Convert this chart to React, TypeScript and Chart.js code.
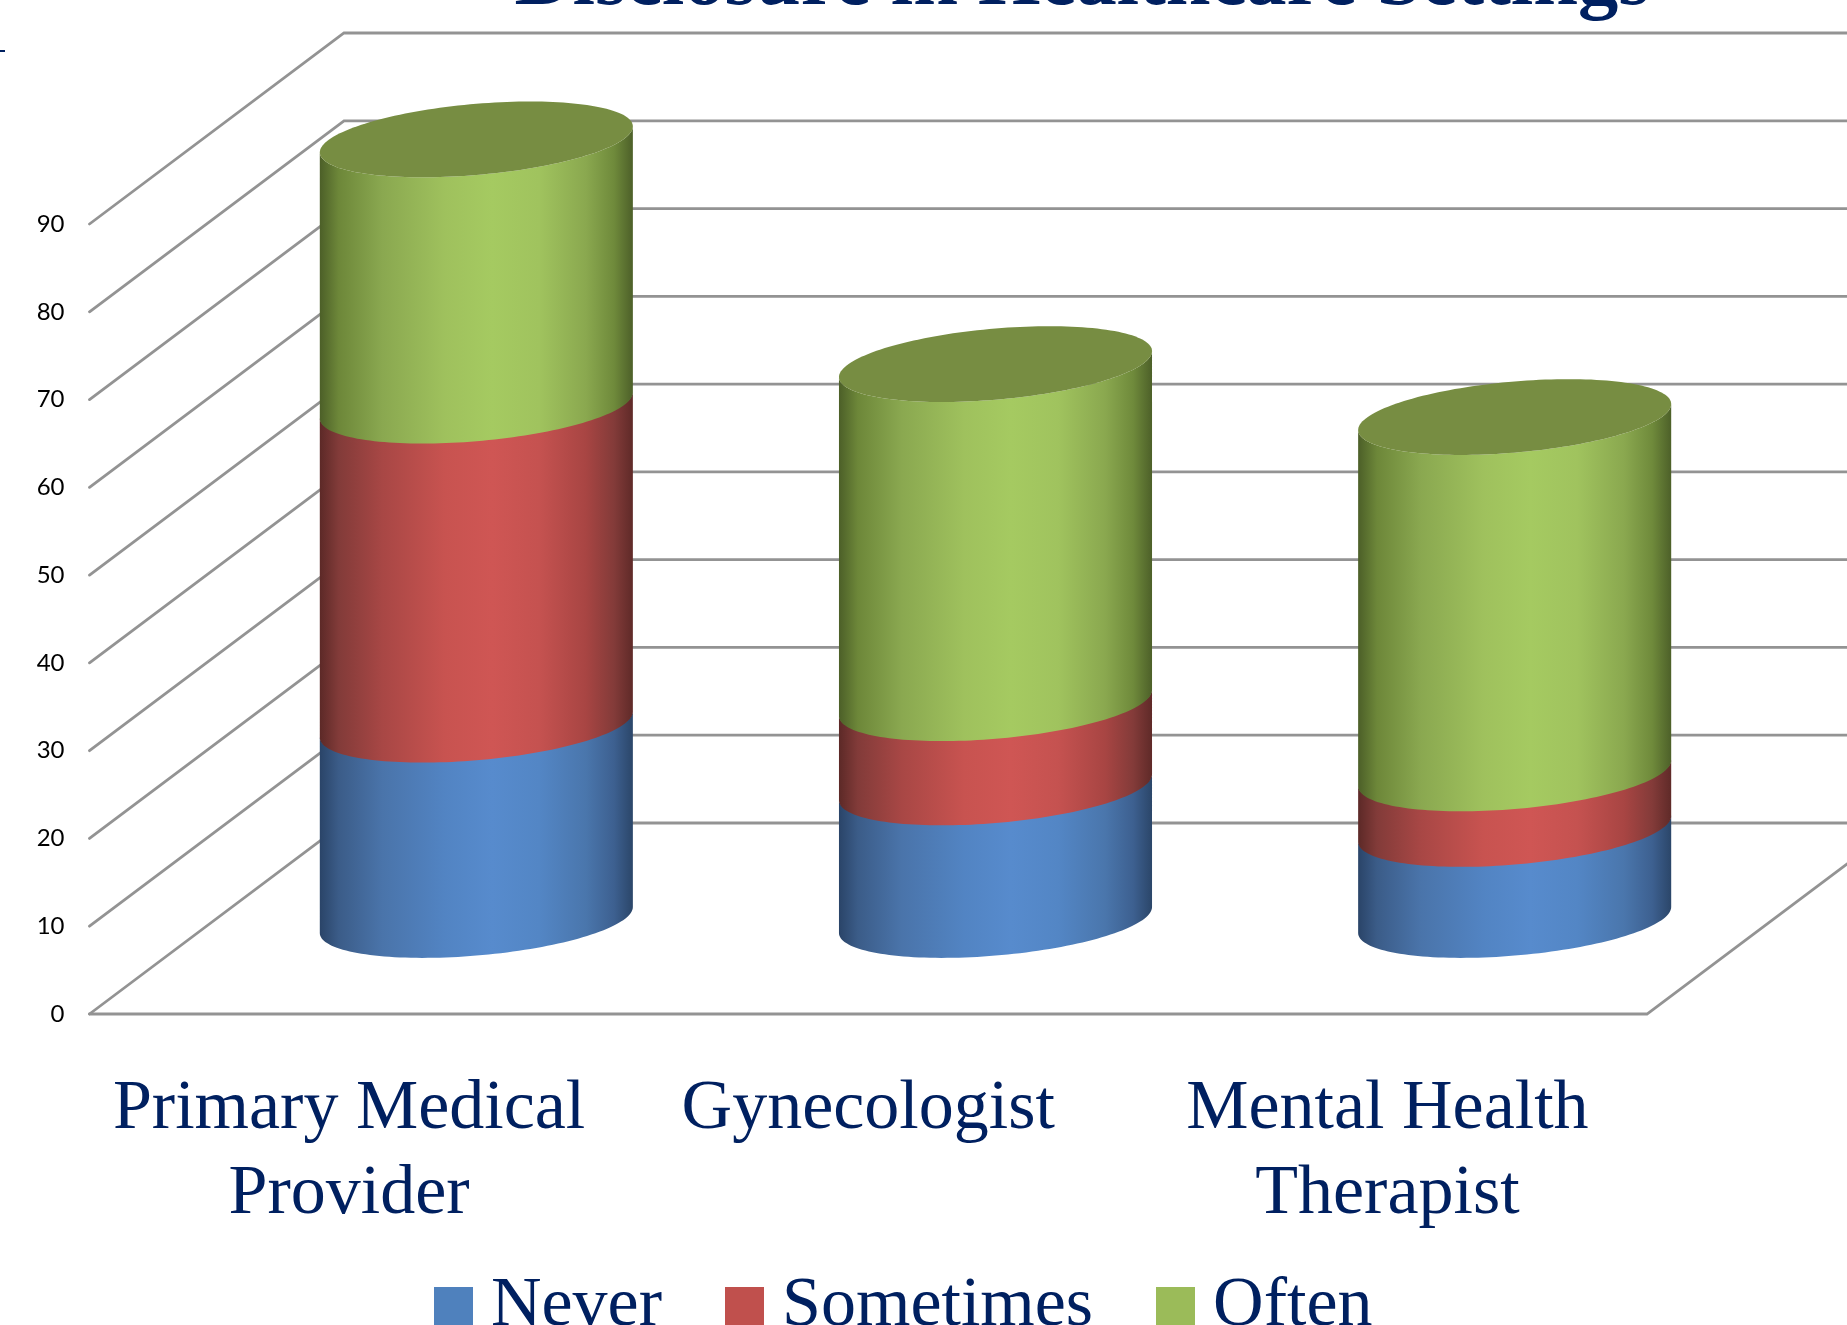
import React, { useEffect, useRef } from "react";
import { Chart, registerables } from "chart.js";

Chart.register(...registerables);

const categories = [["Primary Medical", "Provider"], "Gynecologist", ["Mental Health", "Therapist"]];
const never = [22.25, 15.1, 10.37];
const sometimes = [36.35, 9.6, 6.33];
const often = [30.33, 38.63, 40.6];
const yTicksMax = 90;
const titleText = "Disclosure in Healthcare Settings";

const NAVY = "#002060";
const GRID = "#939393";
const DEPTH_X = 254.5;
const DEPTH_Y = 191;
const ELL_B = 35.6;
const ELL_SLOPE = -13;

const swatch = (color: string) => {
  const c = document.createElement("canvas");
  c.width = 39;
  c.height = 39;
  const g = c.getContext("2d")!;
  g.fillStyle = color;
  g.fillRect(0, 0, 39, 39);
  return c;
};

const rampStops = [0, 0.06, 0.2, 0.4, 0.55, 0.7, 0.85, 0.94, 1];
const ramps: Record<number, string[]> = {
  0: ["#2a4468", "#3b5c88", "#4a74aa", "#5284c3", "#578bcd", "#5386c5", "#4a76ac", "#3d6090", "#2b4669"],
  1: ["#5c2927", "#823b39", "#a84745", "#c85350", "#cf5654", "#c55250", "#a84543", "#833b39", "#5f2a28"],
  2: ["#4c5f28", "#6d8739", "#8aa850", "#9fc15d", "#a5ca61", "#a0c35e", "#8aa84f", "#6f8a3b", "#4d6029"],
};

function cylinderPlugin() {
  return {
    id: "cylinder3d",
    beforeDatasetsDraw(chart: any) {
      const { ctx, chartArea, scales } = chart;
      const y = scales.y;
      const L = chartArea.left;
      const R = chartArea.right;
      const y0 = y.getPixelForValue(0);
      ctx.save();
      ctx.strokeStyle = GRID;
      ctx.lineWidth = 2.8;
      ctx.lineCap = "round";
      ctx.lineJoin = "miter";
      y.ticks.forEach((t: any) => {
        const py = y.getPixelForValue(t.value);
        ctx.beginPath();
        ctx.moveTo(L, py);
        ctx.lineTo(L + DEPTH_X, py - DEPTH_Y);
        ctx.lineTo(R + DEPTH_X, py - DEPTH_Y);
        ctx.stroke();
      });
      ctx.beginPath();
      ctx.moveTo(L, y0);
      ctx.lineTo(R, y0);
      ctx.lineTo(R + DEPTH_X, y0 - DEPTH_Y);
      ctx.stroke();

      // stray mark at the page's left edge of the source slide
      ctx.fillStyle = NAVY;
      ctx.fillRect(0, 50, 5, 2);

      const dsCount = chart.data.datasets.length;
      const nCat = chart.data.labels.length;
      for (let c = 0; c < nCat; c++) {
        let topY = 0;
        let cx = 0;
        let a = 0;
        const arc = (cyy: number, forward: boolean) => {
          const pts: [number, number][] = [];
          for (let i = 0; i <= 80; i++) {
            const t = Math.PI - (i / 80) * Math.PI;
            pts.push([cx + a * Math.cos(t), cyy + ELL_SLOPE * Math.cos(t) + ELL_B * Math.sin(t)]);
          }
          return forward ? pts : pts.reverse();
        };
        for (let d = 0; d < dsCount; d++) {
          const el: any = chart.getDatasetMeta(d).data[c];
          const hw = el.width / 2;
          cx = el.x + DEPTH_X / 2;
          a = hw;
          const yBottom = el.base - DEPTH_Y / 2 + 1.5;
          const yTop = el.y - DEPTH_Y / 2 + 1.5;
          topY = yTop;
          const grad = ctx.createLinearGradient(cx - hw, 0, cx + hw, 0);
          ramps[d].forEach((col: string, i: number) => grad.addColorStop(rampStops[i], col));
          ctx.fillStyle = grad;
          ctx.beginPath();
          arc(yBottom, true).forEach(([px, py], i) => (i ? ctx.lineTo(px, py) : ctx.moveTo(px, py)));
          arc(yTop - (d < dsCount - 1 ? 1 : 0), false).forEach(([px, py]) => ctx.lineTo(px, py));
          ctx.closePath();
          ctx.fill();
        }
        ctx.fillStyle = "#778d42";
        ctx.beginPath();
        for (let i = 0; i <= 160; i++) {
          const t = (i / 160) * Math.PI * 2;
          const px = cx + a * Math.cos(t);
          const py = topY + ELL_SLOPE * Math.cos(t) + ELL_B * Math.sin(t);
          if (i) ctx.lineTo(px, py);
          else ctx.moveTo(px, py);
        }
        ctx.closePath();
        ctx.fill();
      }
      ctx.restore();
      return false;
    },
  };
}

export default function App() {
  const ref = useRef<HTMLCanvasElement>(null);
  useEffect(() => {
    document.body.style.margin = "0";
    document.body.style.overflow = "hidden";
    const serif = "'Liberation Serif', serif";
    const colors = ["#4f81bd", "#c0504d", "#9bbb59"];
    const chart = new Chart(ref.current!, {
      type: "bar",
      data: {
        labels: categories as any,
        datasets: [
          { label: "Never", data: never, backgroundColor: colors[0] },
          { label: "Sometimes", data: sometimes, backgroundColor: colors[1] },
          { label: "Often", data: often, backgroundColor: colors[2] },
        ],
      },
      options: {
        responsive: false,
        animation: false,
        layout: { padding: { top: 0, left: 0, right: 200, bottom: 0 } },
        datasets: { bar: { categoryPercentage: 1, barPercentage: 0.603 } },
        scales: {
          x: {
            stacked: true,
            grid: { display: false },
            border: { display: false },
            afterFit: (s: any) => {
              s.height = 152;
            },
            ticks: {
              autoSkip: false,
              maxRotation: 0,
              minRotation: 0,
              color: NAVY,
              padding: 45,
              font: { family: serif, size: 70, lineHeight: 1.22 },
            },
          },
          y: {
            stacked: true,
            min: 0,
            max: yTicksMax,
            grid: { display: false },
            border: { display: false },
            afterFit: (s: any) => {
              s.width = 89.5;
            },
            ticks: {
              stepSize: 10,
              color: "#000000",
              padding: 17,
              font: { family: "Lato, sans-serif", size: 24 },
            },
          },
        },
        plugins: {
          tooltip: { enabled: false },
          title: {
            display: true,
            text: titleText,
            color: NAVY,
            font: { family: serif, size: 80.5, weight: "bold", lineHeight: 1.2 },
            padding: { top: -65.3, bottom: 192.7 },
          },
          legend: {
            position: "bottom",
            align: "start",
            labels: {
              usePointStyle: true,
              pointStyleWidth: 6,
              boxHeight: 39,
              padding: 79,
              color: NAVY,
              font: { family: serif, size: 70, lineHeight: 1.2 },
              generateLabels: (c: any) =>
                c.data.datasets.map((ds: any, i: number) => ({
                  text: ds.label,
                  fontColor: NAVY,
                  pointStyle: swatch(colors[i]),
                  datasetIndex: i,
                  lineWidth: 0,
                  strokeStyle: "transparent",
                  fillStyle: colors[i],
                })),
            },
          },
        },
      },
      plugins: [
        cylinderPlugin(),
        {
          id: "placeBlocks",
          afterLayout(c: any) {
            c.legend.left = 371;
            c.legend.top = 1245 - 79 + 3 + 23.5;
            c.scales.x.bottom = 1262;
            c.titleBlock.left = 317;
            c.titleBlock.right = 1847;
          },
        },
      ],
    } as any);
    return () => chart.destroy();
  }, []);
  return <canvas ref={ref} width={1847} height={1325} style={{ display: "block", width: 1847, height: 1325 }} />;
}
